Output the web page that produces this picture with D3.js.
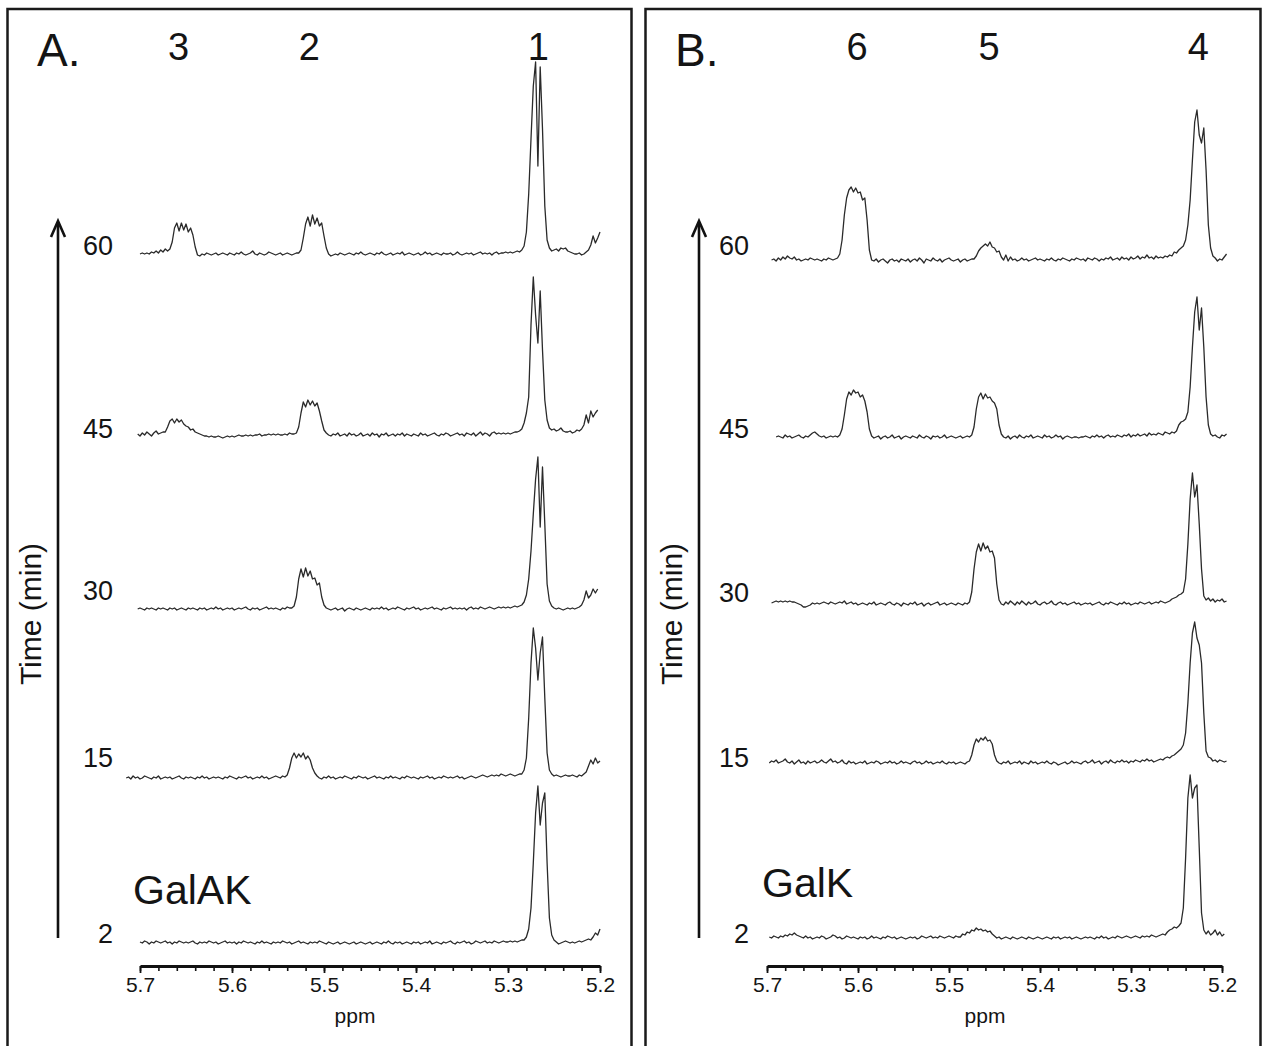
<!DOCTYPE html>
<html><head><meta charset="utf-8">
<script src="https://cdn.jsdelivr.net/npm/d3@7"></script>
<style>
html,body{margin:0;padding:0;background:#fff;}
svg{display:block;}
text{font-family:"Liberation Sans",Arial,Helvetica,sans-serif;fill:#141414;}
</style></head>
<body>
<svg id="chart" width="1266" height="1046"></svg>
<script>
// ---------- DATA ----------
const ppmStep = 0.0025;
const axisTicks = [5.7, 5.6, 5.5, 5.4, 5.3, 5.2];
const minorTicks = d3.range(0, 26).map(k => +(5.7 - k * 0.02).toFixed(2));
const timesMin = ["60", "45", "30", "15", "2"];
const peakLabelsA = ["3", "2", "1"];
const peakPpmA = [5.658, 5.516, 5.267];
const peakLabelsB = ["6", "5", "4"];
const peakPpmB = [5.601, 5.456, 5.226];
const startPpmA = [5.700, 5.7025, 5.7025, 5.715, 5.700];
const startPpmB = [5.695, 5.690, 5.695, 5.6975, 5.6975];
const stackOffsetA = [689, 508, 334, 165, 0];
const stackOffsetB = [678, 501, 334, 175, 0];
const timeLabelLevelA = [688, 505, 343, 176, 0];
const timeLabelLevelB = [683, 500, 336, 171, -5];

const specA60 = [
 0,1,0,1,0,2,1,3,1,4,2,5,3,5,12,26,31,23,31,24,
 30,22,26,19,7,-1,-2,0,-1,1,0,-1,0,1,-1,0,1,0,-1,1,
 0,-1,1,0,2,0,-1,0,1,3,0,-1,1,0,-1,0,2,1,0,-1,
 0,1,-1,0,1,0,-1,0,1,1,4,16,30,37,28,39,30,36,28,31,
 18,6,0,-2,-1,0,-1,1,0,-1,0,1,0,-1,1,0,2,0,-1,0,
 1,0,-1,1,0,2,0,-1,0,1,-1,0,1,0,2,-1,0,1,0,-1,
 0,1,-1,0,2,0,1,-1,0,1,0,-1,1,0,0,1,-1,0,2,0,
 -1,0,1,0,1,-1,0,1,2,0,1,0,1,-1,1,2,0,1,1,2,
 1,2,1,2,3,2,4,8,22,60,115,168,192,88,187,125,48,14,6,3,
 4,5,3,6,5,6,3,2,1,0,0,1,-1,0,2,4,9,18,11,16,
 22];
const specA45 = [
 1,-1,2,0,3,1,-1,2,4,1,2,3,3,8,14,16,12,16,13,15,
 11,9,8,5,6,3,2,1,0,-1,-1,-2,-1,-2,-2,-1,-2,-3,-2,-1,
 -2,-1,-2,-1,0,-1,-1,0,-1,0,-1,0,0,1,-1,0,0,1,0,1,
 0,1,0,0,1,0,2,1,1,2,8,22,33,28,35,30,34,29,32,24,
 14,5,2,0,-1,1,0,2,-1,0,1,-1,2,0,1,-1,0,2,-1,0,
 1,-1,2,0,1,-2,1,0,2,-1,0,1,-1,1,0,2,-1,1,0,-1,
 1,0,-1,2,0,1,-1,0,1,2,0,-1,1,0,2,1,-1,0,1,2,
 0,1,-1,2,1,0,2,-1,1,3,0,2,1,-1,2,3,1,2,1,2,
 1,2,1,2,3,3,4,6,12,22,38,110,158,120,92,144,85,35,15,7,
 5,6,4,5,7,4,3,3,4,2,3,5,4,6,10,20,12,24,18,22,
 25];
const specA30 = [
 0,1,0,-1,1,0,1,0,-1,1,0,1,0,-1,1,0,1,-1,0,1,
 0,-1,1,0,1,0,-1,1,0,1,-1,0,1,0,2,0,1,-1,0,1,
 0,1,-1,0,1,0,1,2,0,-1,1,0,1,-1,0,1,2,0,1,0,
 1,0,-1,1,0,2,1,1,3,12,30,40,32,41,33,38,30,31,24,26,
 12,4,1,0,-1,0,1,-1,0,1,-2,0,1,0,-1,1,0,-1,0,1,
 0,-1,1,0,1,0,2,0,1,-1,0,1,0,2,1,0,-1,1,0,1,
 2,0,1,-1,0,1,0,1,2,0,1,0,-1,1,0,1,2,0,1,0,
 1,0,1,-1,1,2,0,1,0,2,1,0,1,2,1,0,1,2,1,2,
 1,2,1,2,3,2,3,4,7,14,30,58,95,130,152,82,142,85,25,8,
 3,1,0,1,0,-1,0,1,0,1,0,1,2,4,9,18,11,14,20,16,
 20];
const specA15 = [
 0,1,-1,2,0,1,-1,0,2,1,0,-1,1,0,2,-1,0,1,0,1,
 -1,0,1,2,0,-1,1,0,1,0,-1,1,0,2,0,1,-1,0,1,0,
 1,0,-1,1,0,2,1,0,-1,1,0,1,2,0,1,-1,0,1,0,2,
 0,1,-1,0,1,2,1,0,2,1,3,10,20,25,20,24,21,25,19,22,
 18,10,5,2,0,-1,1,0,2,0,1,-1,0,1,0,2,1,0,-1,1,
 0,2,1,0,1,-1,0,1,2,0,1,0,-1,1,0,2,0,1,0,-1,
 1,0,2,1,0,1,0,-1,1,0,1,2,0,1,-1,0,1,0,2,1,
 0,1,0,1,2,0,1,-1,0,1,2,1,0,1,2,3,2,1,2,3,
 2,3,2,4,3,2,3,4,3,2,3,4,4,8,20,60,115,150,130,98,
 125,141,80,25,8,4,2,3,2,1,2,3,2,2,3,2,1,3,2,4,
 6,12,18,14,20,15,17];
const specA2 = [
 1,0,2,1,-1,1,0,2,1,0,1,2,0,1,-1,1,0,2,1,0,
 1,0,1,2,0,-1,1,0,1,0,2,1,0,1,-1,0,1,2,0,1,
 0,1,-1,1,0,2,1,0,1,0,-1,1,0,2,0,1,0,-1,1,0,
 1,0,2,1,0,1,-1,0,1,2,0,1,0,-1,1,0,1,0,2,1,
 0,-1,1,0,-1,0,1,-1,0,1,0,-1,0,1,-1,0,1,0,-1,0,
 1,-1,0,1,0,-1,1,0,2,0,-1,1,0,1,-1,0,1,0,-1,1,
 0,1,-1,0,1,0,2,-1,0,1,0,-1,1,0,1,2,0,-1,1,0,
 1,2,0,1,-1,0,2,1,0,1,2,0,1,0,2,1,0,1,2,1,
 1,2,1,2,1,2,3,3,6,14,35,80,130,157,118,140,150,80,25,8,
 3,1,-1,0,1,2,1,0,1,0,1,2,1,2,3,4,3,6,10,8,
 14];

const specB60 = [
 0,1,-1,2,0,3,1,4,2,1,3,0,1,-1,0,1,0,2,1,0,
 1,0,-1,1,0,2,1,0,1,2,6,20,45,62,70,73,68,72,67,68,
 60,62,40,10,0,-1,1,-2,0,1,-1,-3,0,1,-1,0,-2,1,0,-1,
 1,-2,0,1,-1,2,0,-3,1,0,-1,2,0,-1,1,-2,0,1,2,0,
 -1,0,1,-2,0,1,-1,0,1,1,4,9,12,14,16,14,18,13,12,8,
 9,3,0,5,-1,3,0,1,-1,0,2,0,1,-1,0,1,2,0,1,0,
 -1,1,0,2,0,-1,1,0,2,1,0,-1,1,0,2,1,0,1,-1,2,
 1,0,2,1,-1,1,0,2,1,3,0,1,2,0,3,1,2,0,3,1,
 2,4,1,3,2,5,2,3,1,4,2,3,2,4,3,5,4,8,7,10,
 12,14,20,35,60,100,138,150,125,117,132,90,35,12,4,2,-1,1,0,3,
 6];
const specB45 = [
 0,1,0,-1,2,0,1,-1,0,1,2,0,-1,1,0,2,4,5,3,1,
 0,1,-1,0,1,0,1,0,2,8,22,38,45,42,47,44,45,40,42,36,
 25,8,1,-1,0,1,-2,0,1,-1,0,2,-1,0,1,-2,0,1,0,-1,
 1,0,-1,2,0,-1,1,0,-2,1,0,1,-1,0,2,-1,0,1,0,-1,
 0,1,-1,0,1,0,2,10,28,40,44,38,43,39,40,36,34,28,12,3,
 0,-1,1,-2,0,1,-1,2,0,-1,1,0,2,-1,0,1,0,-1,2,0,
 1,-1,0,2,0,1,-2,0,1,0,-1,0,0,-1,0,0,1,0,-1,1,
 0,2,0,1,-1,1,2,0,1,0,2,1,0,2,1,3,0,2,1,3,
 1,2,3,1,4,2,3,2,4,3,2,5,4,3,5,4,6,12,15,16,
 18,25,50,90,125,140,107,129,90,40,12,3,1,2,0,-1,2,1,3];
const specB30 = [
 1,2,3,2,3,2,3,2,3,2,2,1,0,-1,-3,-3,-2,-1,1,0,
 1,0,1,2,1,0,2,1,0,1,2,1,3,0,1,2,0,1,-1,0,
 1,0,-1,1,0,2,-1,0,1,0,-1,1,2,0,-1,1,0,-2,1,0,
 -1,1,0,2,-1,0,1,-2,0,1,-1,0,1,2,-1,0,1,-1,0,1,
 0,-1,1,0,-1,1,0,2,12,35,52,60,53,61,55,58,52,53,46,20,
 4,0,-1,2,0,3,1,-1,2,0,3,1,-1,2,0,1,3,0,-1,1,
 2,0,1,3,0,-1,1,2,0,1,-1,0,1,2,0,1,-1,0,1,0,
 1,-1,0,1,2,0,-1,1,0,2,1,0,-1,1,0,2,0,1,-1,0,
 1,0,2,1,0,1,2,0,1,2,1,3,2,1,2,3,5,6,7,9,
 10,12,25,60,105,131,107,119,80,35,8,4,6,3,5,2,4,3,5,2,
 3];
const specB15 = [
 0,2,1,3,0,1,2,4,1,0,2,-1,1,3,0,1,-1,2,0,1,
 2,0,1,3,1,0,2,4,1,2,0,1,3,0,-1,2,0,1,-1,0,
 1,0,2,-1,0,1,0,2,1,-1,0,1,0,2,0,1,-1,0,2,0,
 1,0,-1,1,2,0,1,-1,0,2,0,1,-1,0,1,0,2,0,-1,1,
 0,1,-1,0,1,0,-1,1,2,8,18,24,21,25,23,26,22,23,19,8,
 2,0,-1,1,0,2,-1,0,1,0,2,-1,1,0,-1,2,0,1,-1,0,
 1,0,2,0,-1,1,0,-2,-1,0,1,-1,0,2,0,1,0,-1,1,2,
 0,1,3,0,1,2,-1,1,2,0,3,1,0,2,1,3,1,2,0,2,
 1,3,2,1,3,2,4,2,3,1,2,3,4,3,5,6,5,7,8,10,
 12,14,18,30,60,100,130,141,125,118,100,50,12,6,5,2,3,1,3,2,
 1,2];
const specB2 = [
 1,0,2,1,0,2,1,3,2,4,3,5,3,2,1,0,2,0,1,-1,
 0,1,0,2,1,-1,0,1,3,2,0,1,-1,0,2,1,0,1,0,-1,
 1,0,1,-1,0,2,0,1,0,-1,1,0,2,1,0,1,-1,0,1,0,
 -1,0,1,0,1,-1,0,2,1,0,1,2,0,1,0,2,1,0,1,2,
 1,0,2,1,1,4,3,6,5,8,7,10,8,9,7,8,6,7,4,2,
 0,1,-1,0,1,0,-1,1,0,-1,0,1,0,-1,1,0,-1,0,1,0,
 -1,0,1,0,-1,1,0,1,-1,0,1,0,1,-1,0,1,0,-1,0,1,
 0,1,0,-1,1,0,2,0,1,-1,0,1,0,2,1,0,1,2,1,0,
 1,2,1,0,2,1,2,1,3,2,1,2,3,4,3,6,8,9,11,10,
 12,15,30,80,140,163,140,150,153,90,25,8,4,7,3,5,8,3,6,2,
 4];

const spectraA = [specA60, specA45, specA30, specA15, specA2];
const spectraB = [specB60, specB45, specB30, specB15, specB2];

// ---------- DRAWING ----------
const svg = d3.select("#chart");
svg.append("rect").attr("width", 1266).attr("height", 1046).attr("fill", "#fff");

const panels = [
  {id: "A", letter: "A.", box: [7.5, 9, 624, 1060], x0: 140, x1: 600, baseY: 943, axisY: 966,
   arrowX: 58, labelRight: 113, titleX: 41, enzyme: "GalAK", enzX: 133, enzY: 904, ppmX: 355,
   spectra: spectraA, starts: startPpmA, offsets: stackOffsetA, levels: timeLabelLevelA,
   peakLabels: peakLabelsA, peakPpm: peakPpmA, letterX: 37},
  {id: "B", letter: "B.", box: [645.5, 9, 615, 1060], x0: 767, x1: 1222, baseY: 938, axisY: 966,
   arrowX: 699, labelRight: 749, titleX: 682, enzyme: "GalK", enzX: 762, enzY: 897, ppmX: 985,
   spectra: spectraB, starts: startPpmB, offsets: stackOffsetB, levels: timeLabelLevelB,
   peakLabels: peakLabelsB, peakPpm: peakPpmB, letterX: 675}
];

panels.forEach(p => {
  const g = svg.append("g").attr("class", "panel-" + p.id);
  g.append("rect").attr("x", p.box[0]).attr("y", p.box[1]).attr("width", p.box[2]).attr("height", p.box[3])
    .attr("fill", "none").attr("stroke", "#1a1a1a").attr("stroke-width", 2.5);

  const x = d3.scaleLinear().domain([5.7, 5.2]).range([p.x0, p.x1]);
  const y = d3.scaleLinear().domain([0, 1000]).range([p.baseY, p.baseY - 1000]);

  // spectra
  p.spectra.forEach((vals, k) => {
    const pts = vals.map((v, i) => ({ppm: p.starts[k] - i * ppmStep, v: v}));
    const line = d3.line().x(d => x(d.ppm)).y(d => y(p.offsets[k] + d.v));
    g.append("path").datum(pts).attr("d", line)
      .attr("fill", "none").attr("stroke", "#2a2a2a").attr("stroke-width", 1.3)
      .attr("stroke-linejoin", "round");
  });

  // time labels
  timesMin.forEach((t, k) => {
    g.append("text").attr("x", p.labelRight).attr("y", y(p.levels[k]))
      .attr("text-anchor", "end").attr("font-size", 27).text(t);
  });

  // arrow
  const top = 221, bottom = 938;
  g.append("line").attr("x1", p.arrowX).attr("x2", p.arrowX).attr("y1", bottom).attr("y2", top + 1)
    .attr("stroke", "#111").attr("stroke-width", 2.6);
  g.append("path").attr("d", `M${p.arrowX - 7},${top + 16} L${p.arrowX},${top} L${p.arrowX + 7},${top + 16}`)
    .attr("fill", "none").attr("stroke", "#111").attr("stroke-width", 2.6).attr("stroke-linejoin", "miter");

  // Time (min)
  g.append("text").attr("transform", `translate(${p.titleX},614) rotate(-90)`)
    .attr("text-anchor", "middle").attr("font-size", 30).text("Time (min)");

  // panel letter and peak labels
  g.append("text").attr("x", p.letterX).attr("y", 66).attr("font-size", 46).text(p.letter);
  p.peakLabels.forEach((lab, k) => {
    g.append("text").attr("x", x(p.peakPpm[k])).attr("y", 60).attr("text-anchor", "middle")
      .attr("font-size", 38).text(lab);
  });

  // enzyme name
  g.append("text").attr("x", p.enzX).attr("y", p.enzY).attr("font-size", 41).text(p.enzyme);

  // axis
  const minorAxis = d3.axisBottom(x).tickValues(minorTicks).tickSize(5).tickSizeOuter(0).tickFormat("");
  const majorAxis = d3.axisBottom(x).tickValues(axisTicks).tickSize(7).tickSizeOuter(0).tickPadding(4)
    .tickFormat(d3.format(".1f"));
  const ga = g.append("g").attr("transform", `translate(0,${p.axisY})`).call(minorAxis);
  ga.select(".domain").remove();
  ga.selectAll("line").attr("stroke", "#111").attr("stroke-width", 1.6);
  const gb = g.append("g").attr("transform", `translate(0,${p.axisY})`).call(majorAxis);
  gb.select(".domain").attr("stroke", "#111").attr("stroke-width", 3);
  gb.selectAll("line").attr("stroke", "#111").attr("stroke-width", 1.8);
  gb.selectAll("text").attr("font-size", 21).attr("fill", "#141414")
    .attr("font-family", "'Liberation Sans',Arial,sans-serif");

  g.append("text").attr("x", p.ppmX).attr("y", 1023).attr("text-anchor", "middle")
    .attr("font-size", 21).text("ppm");
});
</script>
</body></html>
